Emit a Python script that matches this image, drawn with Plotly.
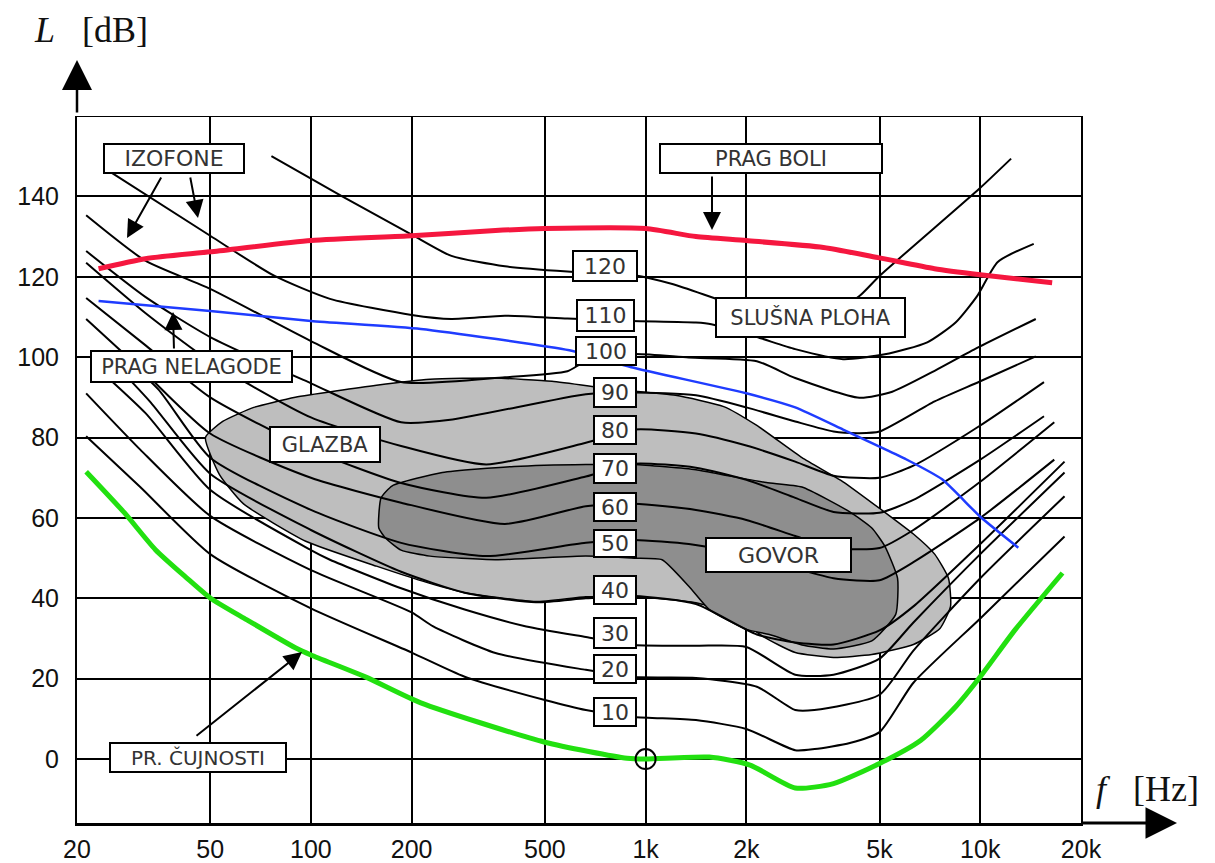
import math
import plotly.graph_objects as go

# ---------------- data (frequency in Hz, level in dB) ----------------
FREQ_TICKS = [20, 50, 100, 200, 500, 1000, 2000, 5000, 10000, 20000]
FREQ_TICK_LABELS = ["20", "50", "100", "200", "500", "1k", "2k", "5k", "10k", "20k"]
LEVEL_TICKS = [0, 20, 40, 60, 80, 100, 120, 140, 160]
LEVEL_TICK_LABELS = ["0", "20", "40", "60", "80", "100", "120", "140", ""]

# equal-loudness contours (izofone), labelled by phon
ISO10_F = [21.3, 30.9, 50, 100, 200, 288, 500, 663, 925, 1414, 2000, 2800, 3200, 4076, 5000, 6314, 10000, 17858]
ISO10_L = [80.3, 67.7, 51, 37.5, 26.5, 20.5, 14.7, 12.2, 10.5, 9.7, 7.5, 2.2, 2.5, 4, 6.7, 19, 35, 55.4]
ISO20_F = [21.3, 30.9, 50, 100, 200, 232, 356, 663, 925, 1414, 2150, 2800, 3193, 5000, 6314, 10000, 17858]
ISO20_L = [91, 77, 60.5, 47, 36.5, 33, 26.4, 22.2, 20.4, 20.2, 18, 12.2, 12.2, 16, 27, 45, 65.4]
ISO30_F = [23.2, 32.1, 50, 100, 114, 186, 288, 440, 663, 925, 1414, 2000, 2800, 3644, 5000, 6314, 10000, 17858]
ISO30_L = [97, 86, 67, 52, 49.6, 42.5, 37.2, 33, 30.4, 28.4, 28.2, 27.9, 21, 21, 25, 34, 51, 71.3]
ISO40_F = [24.8, 33, 50, 100, 186, 288, 470, 663, 925, 1414, 2150, 2800, 3644, 5000, 6314, 10000, 17858]
ISO40_L = [100, 89, 71, 57, 46.6, 41.4, 39, 40, 40.6, 38.6, 31, 29, 28.5, 32, 38, 53.5, 74]
ISO50_F = [26.4, 35, 50, 100, 186, 334, 663, 925, 1346, 2000, 2800, 3644, 5000, 6314, 10000, 16641]
ISO50_L = [101.5, 92, 75, 62, 53.8, 50.5, 53.8, 54.5, 53.5, 51, 47.5, 45, 44.5, 49, 60, 74.5]
ISO60_F = [21.3, 32, 50, 100, 186, 380, 663, 925, 1414, 2000, 2800, 3644, 5000, 6314, 10000, 16641]
ISO60_L = [109.5, 96, 81, 70, 63.8, 58.5, 62.9, 63.5, 62, 59.5, 55.5, 52.5, 52.5, 57, 69, 83.8]
ISO70_F = [21.3, 32, 50, 100, 186, 334, 663, 925, 1414, 2000, 2800, 3644, 5000, 6314, 10000, 15504]
ISO70_L = [114.7, 103, 90, 77, 68.7, 65, 70.3, 73.5, 72.5, 69.5, 65, 61.5, 61.3, 64.5, 74.5, 85.3]
ISO80_F = [21.3, 32, 50, 100, 186, 334, 663, 925, 1414, 2000, 2800, 3644, 5000, 6314, 10000, 15504]
ISO80_L = [123.5, 111, 99, 85, 77.9, 73.3, 78.7, 82, 81, 78, 74, 70.5, 70, 73, 83, 93.8]
ISO90_F = [21.3, 32, 50, 100, 186, 265, 663, 925, 1414, 2000, 2800, 3644, 4354, 5000, 7307, 10000, 14652]
ISO90_L = [126.4, 115, 105, 93.5, 83.8, 84.5, 90.8, 91.2, 90.5, 87.5, 84, 81.5, 81.1, 81.5, 89, 94, 100.2]
ISO100_F = [21.3, 32, 50, 100, 186, 380, 584, 663, 925, 1346, 2150, 2800, 4354, 5457, 7307, 9785, 14652]
ISO100_L = [135.3, 124, 117, 104, 93.8, 95, 96.5, 99, 100.8, 99.9, 99, 94.8, 89.9, 91.4, 96.6, 102.3, 109.5]
ISO110_F = [24.8, 50, 77.9, 114, 200, 263, 380, 584, 906, 1414, 1572, 2150, 2800, 3891, 5185, 6944, 8455, 9785, 11278, 14446]
ISO110_L = [146.4, 130.2, 120.2, 114.5, 110.5, 109.5, 110.3, 109.6, 109, 108.6, 108.2, 105, 102, 99.5, 100.7, 103.7, 108.7, 115.2, 123.7, 128.2]
ISO120_F = [76.2, 124, 200, 263, 380, 584, 925, 1202, 1712, 2150, 2800, 3526, 4354, 5000, 9930, 12364]
ISO120_L = [150, 140, 130.5, 125.2, 122.6, 121.3, 120.4, 118.2, 113.9, 111.5, 109.5, 110.5, 115.2, 120.2, 141.9, 149.4]

# threshold of pain (prag boli)
PAIN_F = [23.2, 32, 50, 100, 200, 356, 500, 1000, 1414, 2000, 3400, 5000, 7300, 10000, 16400]
PAIN_L = [122, 124.5, 126.2, 129, 130.2, 131.5, 132, 132, 130, 129, 127.3, 124.7, 122, 120.5, 118.5]
# threshold of discomfort (prag nelagode)
DISCOMFORT_F = [23.2, 50, 100, 213, 592, 906, 2000, 2800, 3891, 4980, 6000, 7690, 10000, 12993]
DISCOMFORT_L = [114, 111.5, 109, 107, 101.7, 97.5, 91, 87.5, 82, 77.8, 74.6, 69.6, 60.3, 52.6]
# threshold of hearing (prag čujnosti)
HEARING_F = [21.3, 27.7, 34.3, 42.5, 50, 64.2, 89.8, 100, 146, 213, 500, 880, 1000, 1550, 2053, 2800, 3644, 5000, 6646, 8455, 10000, 12720, 17610]
HEARING_L = [71.5, 61.3, 52.1, 45.1, 40.1, 34.7, 27.7, 25.9, 20.4, 14, 4.2, 0.2, 0, 0.5, -1.5, -7.2, -6.1, -1.1, 4.7, 13.1, 20.5, 32.2, 46.3]
# reference point 1 kHz / 0 dB
REF_F = [1000]
REF_L = [0]

# music area (glazba) outline
MUSIC_F = [48.4, 54.5, 67.5, 89.8, 157, 227, 356, 525, 803, 1228, 1712, 2150, 2932, 3891, 5073, 6314, 7307, 8035,
           8151, 7579, 6314, 4743, 3644, 2800, 2252, 1786, 1414, 925, 663, 469, 288, 223, 157, 96.5, 62.9, 53.3, 48.4]
MUSIC_L = [80, 84, 87.5, 90, 93, 94.5, 94.8, 94, 92, 90.5, 87.7, 83, 75, 69, 62, 56, 51, 45,
           38, 32.5, 28.5, 26, 25.3, 26.5, 30.4, 36.4, 38.9, 40.4, 40.4, 39.2, 41.4, 43.9, 48, 54.2, 63.5, 70.8, 80]
# speech area (govor) outline
SPEECH_F = [159.5, 162, 175, 247, 405, 663, 925, 1414, 1786, 2296, 2932, 4076, 4743, 5185, 5660, 5590, 4743,
            3644, 2932, 2343, 2010, 1550, 1346, 1120, 925, 663, 356, 227, 186, 167, 159.5]
SPEECH_L = [57.5, 65, 68, 71.3, 72.8, 73.3, 73.3, 72, 70.4, 68.8, 67.7, 61.5, 57.5, 53, 45, 36, 29.4,
            27.4, 28.4, 31, 32.2, 37.2, 43, 49.6, 50, 50.5, 49.6, 50.5, 52, 55, 57.5]

# ---------------- figure ----------------
W, H = 1215, 863
OFF = 8                      # page margin of the html body
ML, MR, MT, MB = 69, 142, 108, 48
PW, PH = W - ML - MR, H - MT - MB


def px(X):
    """screen pixel x -> paper fraction"""
    return (X - OFF - ML) / PW


def py(Y):
    """screen pixel y -> paper fraction"""
    return (H - MB - (Y - OFF)) / PH


fig = go.Figure()

fig.add_trace(go.Scatter(x=MUSIC_F, y=MUSIC_L, mode="lines", fill="toself", fillcolor="#bebebe",
                         line=dict(color="black", width=1.5, shape="spline", smoothing=0.5), hoverinfo="skip"))
fig.add_trace(go.Scatter(x=SPEECH_F, y=SPEECH_L, mode="lines", fill="toself", fillcolor="#8e8e8e",
                         line=dict(color="black", width=1.5, shape="spline", smoothing=0.5), hoverinfo="skip"))

isophones = [
    (ISO10_F, ISO10_L), (ISO20_F, ISO20_L), (ISO30_F, ISO30_L), (ISO40_F, ISO40_L),
    (ISO50_F, ISO50_L), (ISO60_F, ISO60_L), (ISO70_F, ISO70_L), (ISO80_F, ISO80_L),
    (ISO90_F, ISO90_L), (ISO100_F, ISO100_L), (ISO110_F, ISO110_L), (ISO120_F, ISO120_L),
]
for f, lv in isophones:
    fig.add_trace(go.Scatter(x=f, y=lv, mode="lines",
                             line=dict(color="black", width=2, shape="spline", smoothing=0.6)))

fig.add_trace(go.Scatter(x=DISCOMFORT_F, y=DISCOMFORT_L, mode="lines",
                         line=dict(color="#1f3cff", width=2.5, shape="spline", smoothing=0.5)))
fig.add_trace(go.Scatter(x=PAIN_F, y=PAIN_L, mode="lines",
                         line=dict(color="#f5173f", width=5, shape="spline", smoothing=0.6)))
fig.add_trace(go.Scatter(x=HEARING_F, y=HEARING_L, mode="lines",
                         line=dict(color="#22e010", width=5, shape="spline", smoothing=0.6)))
fig.add_trace(go.Scatter(x=REF_F, y=REF_L, mode="markers",
                         marker=dict(symbol="circle-open", size=20, color="black", line=dict(width=2))))

tickfont = dict(family="Liberation Sans, Arial", size=25, color="#111")
fig.update_layout(
    width=W, height=H, margin=dict(l=ML, r=MR, t=MT, b=MB, autoexpand=False),
    paper_bgcolor="white", plot_bgcolor="white", showlegend=False,
    xaxis=dict(type="log", range=[math.log10(20), math.log10(20000)],
               tickvals=FREQ_TICKS, ticktext=FREQ_TICK_LABELS,
               showgrid=True, gridcolor="black", gridwidth=2,
               showline=True, linecolor="black", linewidth=3, zeroline=False,
               ticks="", ticklabelstandoff=2, tickfont=tickfont),
    yaxis=dict(range=[-15.9, 160], tickvals=LEVEL_TICKS, ticktext=LEVEL_TICK_LABELS,
               showgrid=True, gridcolor="black", gridwidth=2,
               showline=True, linecolor="black", linewidth=2, mirror=True, zeroline=False,
               ticks="", ticklabelstandoff=11, tickfont=tickfont),
)

# top border (160 dB line)
fig.add_shape(type="line", xref="paper", yref="y", x0=0, x1=1, y0=160, y1=160,
              line=dict(color="black", width=2))

ann = []
# axis arrows
ann.append(dict(xref="paper", yref="paper", x=px(77), y=py(60), ax=0, ay=54, text="",
                showarrow=True, arrowhead=2, arrowwidth=2.5, arrowsize=2.4, arrowcolor="black", standoff=0))
ann.append(dict(xref="paper", yref="paper", x=px(1177), y=py(823), ax=-96, ay=0, text="",
                showarrow=True, arrowhead=2, arrowwidth=3, arrowsize=2.1, arrowcolor="black", standoff=0))
# axis titles
titlefont = dict(family="Liberation Serif, Times New Roman", size=36, color="#111")
ann.append(dict(xref="paper", yref="paper", x=px(32), y=py(30), xanchor="left", yanchor="middle",
                text="<i>L</i>&nbsp;&nbsp;&nbsp;[dB]", showarrow=False, font=titlefont))
ann.append(dict(xref="paper", yref="paper", x=px(1094), y=py(789), xanchor="left", yanchor="middle",
                text="<i>f</i>&nbsp;&nbsp;&nbsp;[Hz]", showarrow=False, font=titlefont))

# pointer arrows (tip position, tail offset in px)
for tx, ty, ax, ay in [(127, 238, 35, -62), (198, 218, -8, -42), (712, 230, 0, -55),
                       (173, 312, 1, 38), (302, 652, -107, 85)]:
    ann.append(dict(xref="paper", yref="paper", x=px(tx), y=py(ty), ax=ax, ay=ay, text="",
                    showarrow=True, arrowhead=2, arrowwidth=2, arrowsize=1.8,
                    arrowcolor="black", standoff=0))

# boxed labels: text, centre x, centre y, width, height, font size
labels = [
    ("IZOFONE", 174, 158.5, 142, 31, 22),
    ("PRAG BOLI", 771, 158.5, 224, 31, 21),
    ("SLUŠNA PLOHA", 810.5, 317.5, 191, 41, 21),
    ("PRAG NELAGODE", 191.5, 366.5, 203, 33, 21),
    ("GLAZBA", 325, 444.5, 112, 37, 21),
    ("GOVOR", 778.5, 555, 147, 36, 22),
    ("PR. ČUJNOSTI", 198, 757.5, 178, 31, 20),
    ("120", 605, 266, 66, 32, 22),
    ("110", 605.5, 315.5, 59, 33, 22),
    ("100", 606, 351, 62, 30, 22),
    ("90", 615, 392.5, 44, 31, 22),
    ("80", 615, 430, 44, 30, 22),
    ("70", 615, 468.5, 44, 31, 22),
    ("60", 615, 507, 44, 30, 22),
    ("50", 615, 543.5, 44, 29, 22),
    ("40", 615, 590, 44, 30, 22),
    ("30", 615, 633, 44, 32, 22),
    ("20", 615, 669, 44, 30, 22),
    ("10", 615, 712, 44, 30, 22),
]
for t, cx, cy, w, h, fs in labels:
    ann.append(dict(xref="paper", yref="paper", x=px(cx), y=py(cy), xanchor="center", yanchor="middle",
                    text=t, showarrow=False, bgcolor="white", bordercolor="black", borderwidth=2,
                    borderpad=0, width=w - 4, height=h - 4, align="center",
                    font=dict(family="DejaVu Sans, Verdana, sans-serif", size=fs, color="#333")))

fig.update_layout(annotations=ann)
fig.write_html("out.html")
